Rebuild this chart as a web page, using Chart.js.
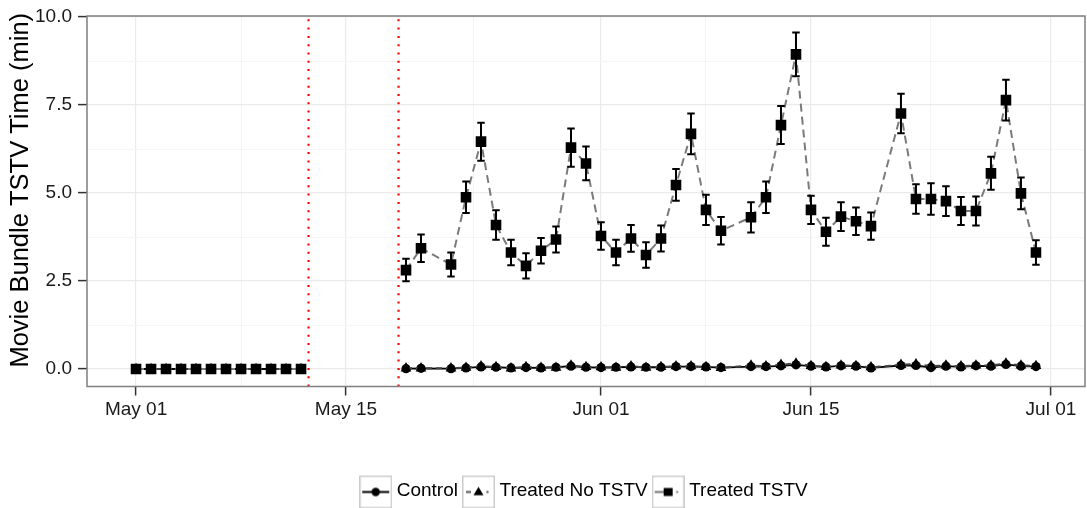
<!DOCTYPE html>
<html>
<head>
<meta charset="utf-8">
<script src="https://cdn.jsdelivr.net/npm/chart.js@4.4.1/dist/chart.umd.min.js"></script>
<style>
  html, body { margin: 0; padding: 0; background: #ffffff; }
  #wrap { width: 1087px; height: 508px; position: relative; }
</style>
</head>
<body>
<div id="wrap"><canvas id="c" width="1087" height="508"></canvas></div>
<script>
// ---- data -------------------------------------------------------------
const preDates = ['05-01','05-02','05-03','05-04','05-05','05-06','05-07','05-08','05-09','05-10','05-11','05-12'];
const postDates = ['05-19','05-20','05-22','05-23','05-24','05-25','05-26','05-27','05-28','05-29','05-30','05-31',
                   '06-01','06-02','06-03','06-04','06-05','06-06','06-07','06-08','06-09',
                   '06-11','06-12','06-13','06-14','06-15','06-16','06-17','06-18','06-19',
                   '06-21','06-22','06-23','06-24','06-25','06-26','06-27','06-28','06-29','06-30'];

const controlPre  = [0,0,0,0,0,0,0,0,0,0,0,0];
const noTstvPre   = [0,0,0,0,0,0,0,0,0,0,0,0];
const tstvPre     = [0,0,0,0,0,0,0,0,0,0,0,0];

const controlPost = [0.01,0.02,0.01,0.03,0.06,0.05,0.03,0.04,0.03,0.05,0.08,0.05,
                     0.04,0.05,0.06,0.05,0.05,0.07,0.07,0.06,0.04,
                     0.07,0.07,0.09,0.12,0.08,0.06,0.09,0.08,0.03,
                     0.10,0.10,0.04,0.08,0.06,0.09,0.08,0.13,0.08,0.07];
const noTstvPost  = [0.02,0.02,0.02,0.04,0.08,0.06,0.02,0.06,0.04,0.04,0.10,0.06,
                     0.05,0.04,0.08,0.04,0.06,0.08,0.08,0.06,0.03,
                     0.10,0.08,0.12,0.16,0.09,0.06,0.10,0.09,0.05,
                     0.12,0.14,0.08,0.10,0.08,0.10,0.10,0.16,0.10,0.09];
const tstvPost    = [2.81,3.43,2.97,4.88,6.46,4.09,3.31,2.93,3.36,3.68,6.29,5.84,
                     3.78,3.31,3.71,3.24,3.71,5.23,6.68,4.52,3.93,
                     4.31,4.88,6.93,8.94,4.52,3.90,4.33,4.20,4.06,
                     7.26,4.83,4.83,4.77,4.49,4.49,5.56,7.64,4.99,3.31];
const tstvErr     = [0.32,0.39,0.34,0.45,0.54,0.42,0.36,0.36,0.36,0.37,0.54,0.48,
                     0.39,0.36,0.38,0.36,0.37,0.45,0.58,0.43,0.39,
                     0.43,0.45,0.54,0.62,0.40,0.40,0.41,0.39,0.39,
                     0.56,0.42,0.45,0.42,0.40,0.41,0.47,0.58,0.45,0.35];

const seriesNames = ['Control', 'Treated No TSTV', 'Treated TSTV'];
const tickDates   = ['05-01','05-15','06-01','06-15','07-01'];
const tickLabels  = ['May 01','May 15','Jun 01','Jun 15','Jul 01'];
const yTicks      = [0, 2.5, 5, 7.5, 10];
const cutoverDays = [11.5, 17.5];   // days after May 01 (noon of May 12 and May 18)
const yTitle      = 'Movie Bundle TSTV Time (min)';

// ---- helpers -----------------------------------------------------------
const FONT = "'Liberation Sans', Arial, Helvetica, sans-serif";
function dayOf(md) {
  const [m, d] = md.split('-').map(Number);
  return (Date.UTC(2015, m - 1, d) - Date.UTC(2015, 4, 1)) / 86400000;
}
const allDates = preDates.concat(postDates);
const xDays = allDates.map(dayOf);
function points(pre, post) {
  const ys = pre.concat(post);
  return xDays.map((x, i) => ({ x: x, y: ys[i] }));
}
const tstvErrAll = tstvPre.map(() => 0).concat(tstvErr);

const majorX = tickDates.map(dayOf);
const minorX = majorX.slice(1).map((v, i) => (v + majorX[i]) / 2);
const minorY = yTicks.slice(1).map((v, i) => (v + yTicks[i]) / 2);

// no line across the gap between the two study phases
function segColor(color) {
  return ctx => (ctx.p0.parsed.x < cutoverDays[0] && ctx.p1.parsed.x > cutoverDays[1]) ? 'rgba(0,0,0,0)' : color;
}

// ---- legend keys -------------------------------------------------------
function makeKey(kind) {
  const c = document.createElement('canvas');
  c.width = 33; c.height = 36;
  const g = c.getContext('2d');
  const top = 3, cy = top + 16.5;
  g.fillStyle = '#ffffff';
  g.fillRect(0.75, top + 0.75, 31.5, 31.5);
  g.strokeStyle = '#cccccc';
  g.lineWidth = 1.5;
  g.strokeRect(0.75, top + 0.75, 31.5, 31.5);
  g.fillStyle = '#000';
  if (kind === 0) {
    g.strokeStyle = '#000'; g.lineWidth = 2;
    g.beginPath(); g.moveTo(3, cy); g.lineTo(30, cy); g.stroke();
    g.beginPath(); g.arc(16.5, cy, 4.2, 0, Math.PI * 2); g.fill();
  } else if (kind === 1) {
    g.strokeStyle = '#555'; g.lineWidth = 2;
    g.beginPath(); g.moveTo(4, cy); g.lineTo(9, cy); g.moveTo(24.5, cy); g.lineTo(26.5, cy); g.stroke();
    g.beginPath(); g.moveTo(16.5, cy - 5.2); g.lineTo(21.5, cy + 3.3); g.lineTo(11.5, cy + 3.3); g.closePath(); g.fill();
  } else {
    g.strokeStyle = '#777'; g.lineWidth = 2;
    g.beginPath(); g.moveTo(3, cy); g.lineTo(12, cy); g.moveTo(24.5, cy); g.lineTo(26.5, cy); g.stroke();
    g.fillRect(12, cy - 4, 9, 8);
  }
  return c;
}
const keyImages = [makeKey(0), makeKey(1), makeKey(2)];

// ---- plugins -----------------------------------------------------------
const cutoverLines = {
  id: 'cutoverLines',
  beforeDatasetsDraw(chart) {
    const { ctx, chartArea: a, scales: { x } } = chart;
    ctx.save();
    ctx.strokeStyle = '#ff0000';
    ctx.lineWidth = 2.2;
    ctx.setLineDash([2, 6.3]);
    cutoverDays.forEach(d => {
      const px = x.getPixelForValue(d);
      ctx.beginPath(); ctx.moveTo(px, a.bottom); ctx.lineTo(px, a.top); ctx.stroke();
    });
    ctx.restore();
  }
};

const errorBars = {
  id: 'errorBars',
  afterDatasetsDraw(chart) {
    const { ctx, scales: { x, y } } = chart;
    const ds = chart.data.datasets.find(d => d.label === seriesNames[2]);
    ctx.save();
    ctx.strokeStyle = '#000';
    ctx.lineWidth = 2;
    ds.data.forEach((p, i) => {
      const e = tstvErrAll[i];
      if (!e) return;
      const px = x.getPixelForValue(p.x);
      const l = x.getPixelForValue(p.x - 0.25), r = x.getPixelForValue(p.x + 0.25);
      const t = y.getPixelForValue(p.y + e), b = y.getPixelForValue(p.y - e);
      ctx.beginPath();
      ctx.moveTo(l, t); ctx.lineTo(r, t);
      ctx.moveTo(px, t); ctx.lineTo(px, b);
      ctx.moveTo(l, b); ctx.lineTo(r, b);
      ctx.stroke();
    });
    ctx.restore();
  }
};

const panelBorder = {
  id: 'panelBorder',
  afterDraw(chart) {
    const { ctx, chartArea: a } = chart;
    ctx.save();
    ctx.strokeStyle = '#7f7f7f';
    ctx.lineWidth = 1.5;
    ctx.strokeRect(a.left, a.top, a.right - a.left, a.bottom - a.top);
    ctx.restore();
  }
};

// rotated y-axis title, sitting a little above the panel's centre
const axisTitle = {
  id: 'axisTitle',
  afterDraw(chart) {
    const { ctx, chartArea: a } = chart;
    ctx.save();
    ctx.translate(21, (a.top + a.bottom) / 2 - 11);
    ctx.rotate(-Math.PI / 2);
    ctx.font = '25.5px ' + FONT;
    ctx.fillStyle = '#000';
    ctx.textAlign = 'center';
    ctx.textBaseline = 'middle';
    ctx.fillText(yTitle, 0, 0);
    ctx.restore();
  }
};

// ---- chart -------------------------------------------------------------
const isMajorX = v => majorX.some(m => Math.abs(m - v) < 1e-6);
const isMajorY = v => yTicks.some(m => Math.abs(m - v) < 1e-6);

new Chart(document.getElementById('c'), {
  type: 'line',
  data: {
    datasets: [
      {
        label: seriesNames[2],
        data: points(tstvPre, tstvPost),
        borderColor: '#7a7a7a', borderWidth: 2, borderDash: [8, 5],
        pointStyle: 'rect', pointRadius: 7.5, pointBackgroundColor: '#000', pointBorderWidth: 0,
        segment: { borderColor: segColor('#7a7a7a') },
        order: 0
      },
      {
        label: seriesNames[1],
        data: points(noTstvPre, noTstvPost),
        borderColor: '#444', borderWidth: 2, borderDash: [6, 4],
        pointStyle: 'triangle', pointRadius: 6.2, pointBackgroundColor: '#000', pointBorderWidth: 0,
        segment: { borderColor: segColor('#444') },
        order: 1
      },
      {
        label: seriesNames[0],
        data: points(controlPre, controlPost),
        borderColor: '#000', borderWidth: 1.8,
        pointStyle: 'circle', pointRadius: 4.6, pointBackgroundColor: '#000', pointBorderWidth: 0,
        segment: { borderColor: segColor('#000') },
        order: 2
      }
    ]
  },
  options: {
    responsive: false,
    animation: false,
    devicePixelRatio: 1,
    layout: { autoPadding: false, padding: { left: 0, right: 2, top: 16, bottom: -2 } },
    plugins: {
      tooltip: { enabled: false },
      legend: {
        position: 'bottom',
        fullSize: false,
        labels: {
          usePointStyle: true,
          pointStyleWidth: 23,
          padding: 9,
          color: '#000',
          font: { family: FONT, size: 19 },
          generateLabels: () => seriesNames.map((name, i) => ({
            text: name, pointStyle: keyImages[i], fillStyle: '#000', strokeStyle: '#000',
            lineWidth: 0, hidden: false, datasetIndex: 2 - i, fontColor: '#000'
          }))
        }
      }
    },
    scales: {
      x: {
        type: 'linear',
        min: -3.27, max: 63.27,
        afterBuildTicks: s => { s.ticks = majorX.concat(minorX).sort((a, b) => a - b).map(v => ({ value: v })); },
        afterFit: s => { s.height = 85.5; s.paddingLeft = 0; s.paddingRight = 0; },
        border: { display: false },
        grid: {
          color: c => (c.tick && isMajorX(c.tick.value)) ? '#ebebeb' : '#f5f5f5',
          lineWidth: c => (c.tick && isMajorX(c.tick.value)) ? 1.2 : 1,
          tickColor: c => (c.tick && isMajorX(c.tick.value)) ? '#333333' : 'rgba(0,0,0,0)',
          tickLength: 9,
          tickWidth: 1.5
        },
        ticks: {
          autoSkip: false, maxRotation: 0, padding: 3,
          color: '#1a1a1a',
          font: { family: FONT, size: 19 },
          callback: v => { const i = majorX.findIndex(m => Math.abs(m - v) < 1e-6); return i >= 0 ? tickLabels[i] : ''; }
        }
      },
      y: {
        min: -0.497, max: 10.03,
        afterBuildTicks: s => { s.ticks = yTicks.concat(minorY).sort((a, b) => a - b).map(v => ({ value: v })); },
        afterFit: s => { s.width = 87; s.paddingTop = 0; s.paddingBottom = 0; },
        border: { display: false },
        grid: {
          color: c => (c.tick && isMajorY(c.tick.value)) ? '#ebebeb' : '#f5f5f5',
          lineWidth: c => (c.tick && isMajorY(c.tick.value)) ? 1.2 : 1,
          tickColor: c => (c.tick && isMajorY(c.tick.value)) ? '#333333' : 'rgba(0,0,0,0)',
          tickLength: 9,
          tickWidth: 1.5
        },
        ticks: {
          autoSkip: false, padding: 6,
          color: '#1a1a1a',
          font: { family: FONT, size: 19 },
          callback: v => isMajorY(v) ? v.toFixed(1) : ''
        },
        title: { display: false }
      }
    }
  },
  plugins: [cutoverLines, errorBars, panelBorder, axisTitle]
});
</script>
</body>
</html>
